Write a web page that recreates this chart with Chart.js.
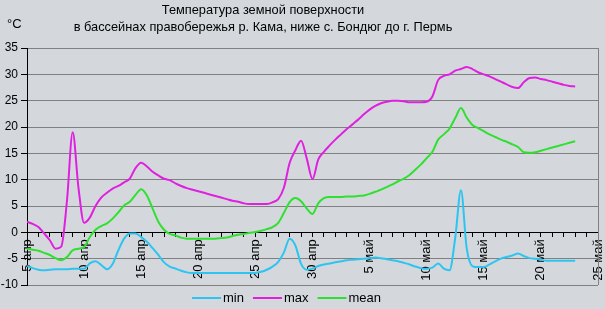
<!DOCTYPE html>
<html>
<head>
<meta charset="utf-8">
<script src="https://cdn.jsdelivr.net/npm/chart.js@4"></script>
<style>
  html, body { margin: 0; padding: 0; background: #d4d8dc; }
</style>
</head>
<body>
<canvas id="chart" width="605" height="309"></canvas>
<script>
// Температура земной поверхности, р. Кама (правобережье), апрель–май
"use strict";

const TITLE_LINES = [
  "Температура земной поверхности",
  "в бассейнах правобережья р. Кама, ниже с. Бондюг до г. Пермь",
];
const UNIT_LABEL = "°C";

// подписи оси X: каждые 5 суток начиная с 5 апр (день 0)
const DATE_TICKS = [
  "5 апр", "10 апр", "15 апр", "20 апр", "25 апр", "30 апр",
  "5 май", "10 май", "15 май", "20 май", "25 май",
];

// сутки от 5 апреля, шаг полсуток
const DAYS = [
  0, 0.5, 1, 1.5, 2, 2.5, 3, 3.5, 4, 4.5, 5, 5.5, 6, 6.5, 7, 7.5, 8, 8.5, 9, 9.5,
  10, 10.5, 11, 11.5, 12, 12.5, 13, 13.5, 14, 14.5, 15, 15.5, 16, 16.5, 17, 17.5, 18, 18.5, 19, 19.5,
  20, 20.5, 21, 21.5, 22, 22.5, 23, 23.5, 24, 24.5, 25, 25.5, 26, 26.5, 27, 27.5, 28, 28.5, 29, 29.5,
  30, 30.5, 31, 31.5, 32, 32.5, 33, 33.5, 34, 34.5, 35, 35.5, 36, 36.5, 37, 37.5, 38, 38.5, 39, 39.5,
  40, 40.5, 41, 41.5, 42, 42.5, 43, 43.5, 44, 44.5, 45, 45.5, 46, 46.5, 47, 47.5, 48,
];

const T_MIN = [
  -6.4, -6.8, -7.1, -7.2, -7.1, -7.0, -7.0, -7.0, -6.9, -6.9, -6.9, -5.9, -5.5, -6.2, -7.0, -6.0, -3.4, -1.2, -0.2, -0.2,
  -0.9, -1.8, -3.0, -4.3, -5.7, -6.5, -6.9, -7.3, -7.6, -7.7, -7.7, -7.7, -7.7, -7.7, -7.7, -7.7, -7.7, -7.7, -7.7, -7.7,
  -7.7, -7.5, -7.1, -6.5, -5.6, -3.8, -1.2, -2.5, -6.0, -7.1, -6.9, -6.4, -6.1, -5.9, -5.7, -5.5, -5.3, -5.2, -5.1, -5.0,
  -4.9, -4.8, -4.9, -5.1, -5.3, -5.5, -5.8, -6.1, -6.5, -6.8, -6.9, -6.7, -5.9, -6.9, -7.2, -1.0, 8.0, -3.0, -6.4, -6.6,
  -6.6, -6.1, -5.5, -5.0, -4.7, -4.4, -4.0, -4.5, -4.9, -5.0, -5.2, -5.4, -5.4, -5.4, -5.4, -5.4, -5.4,
];

const T_MAX = [
  2.0, 1.6, 1.0, -0.2, -1.5, -3.1, -2.7, 6.0, 19.0, 8.6, 1.8, 2.8, 5.0, 6.6, 7.5, 8.3, 8.8, 9.5, 10.2, 12.2,
  13.2, 12.5, 11.5, 10.8, 10.2, 9.9, 9.3, 8.8, 8.4, 8.1, 7.8, 7.5, 7.2, 6.9, 6.6, 6.3, 6.0, 5.8, 5.5, 5.4,
  5.4, 5.4, 5.4, 5.7, 6.3, 8.5, 13.2, 15.6, 17.4, 14.0, 10.1, 13.8, 15.3, 16.5, 17.6, 18.6, 19.6, 20.5, 21.4, 22.4,
  23.3, 24.0, 24.5, 24.8, 25.0, 25.0, 24.9, 24.7, 24.7, 24.7, 24.8, 25.8, 28.9, 29.7, 30.0, 30.7, 31.0, 31.4, 31.0, 30.4,
  30.0, 29.6, 29.1, 28.6, 28.1, 27.6, 27.4, 28.5, 29.3, 29.4, 29.1, 28.9, 28.6, 28.3, 28.0, 27.8, 27.7,
];

const T_MEAN = [
  -3.1, -3.3, -3.5, -3.9, -4.3, -4.9, -5.3, -4.7, -3.4, -3.1, -2.8, -0.9, 0.5, 1.2, 1.7, 2.6, 3.8, 5.1, 5.8, 7.1,
  8.2, 7.0, 4.5, 2.0, 0.5, -0.3, -0.6, -1.0, -1.2, -1.2, -1.2, -1.2, -1.2, -1.2, -1.1, -1.0, -0.7, -0.45, -0.3, -0.1,
  0.05, 0.3, 0.6, 1.0, 1.8, 3.7, 5.75, 6.5, 5.9, 4.5, 3.5, 5.5, 6.5, 6.7, 6.7, 6.7, 6.8, 6.8, 6.9, 7.0,
  7.3, 7.7, 8.1, 8.6, 9.1, 9.7, 10.2, 10.9, 11.9, 12.9, 14.1, 15.3, 17.6, 18.6, 19.7, 21.7, 23.6, 21.8, 20.4, 19.8,
  19.2, 18.6, 18.1, 17.6, 17.2, 16.7, 16.2, 15.2, 15.1, 15.2, 15.5, 15.8, 16.1, 16.4, 16.7, 17.0, 17.3,
];

const SERIES_LABELS = ["min", "max", "mean"];
const SERIES_COLORS = ["#2ec4f0", "#e020e0", "#30e030"];

const FONT = "'Liberation Sans', Arial, sans-serif";
const BG = "#d4d8dc";
const GRID = "#808080";

function toPoints(values) {
  return DAYS.map((d, i) => ({ x: d, y: values[i] }));
}

// фон, заголовок, °C, рамка справа и легенда
const decorPlugin = {
  id: "decor",
  beforeDraw(chart) {
    const ctx = chart.ctx;
    ctx.save();
    ctx.fillStyle = BG;
    ctx.fillRect(0, 0, chart.width, chart.height);
    ctx.restore();
  },
  afterDraw(chart) {
    const ctx = chart.ctx;
    const area = chart.chartArea;
    ctx.save();

    ctx.strokeStyle = GRID;
    ctx.lineWidth = 1;
    ctx.beginPath();
    ctx.moveTo(Math.round(area.right) + 0.5, area.top);
    ctx.lineTo(Math.round(area.right) + 0.5, area.bottom);
    ctx.stroke();

    ctx.fillStyle = "#000";
    ctx.font = "12.8px " + FONT;
    ctx.textAlign = "center";
    ctx.textBaseline = "alphabetic";
    ctx.fillText(TITLE_LINES[0], 263, 14);
    ctx.fillText(TITLE_LINES[1], 263, 31);

    ctx.font = "13px " + FONT;
    ctx.textAlign = "left";
    ctx.fillText(UNIT_LABEL, 7, 28);

    // легенда
    ctx.font = "13px " + FONT;
    ctx.textBaseline = "middle";
    let x = 192;
    const y = 298;
    chart.data.datasets.forEach(ds => {
      ctx.strokeStyle = ds.borderColor;
      ctx.lineWidth = 2;
      ctx.beginPath();
      ctx.moveTo(x, y);
      ctx.lineTo(x + 29, y);
      ctx.stroke();
      x += 31;
      ctx.fillStyle = "#000";
      ctx.fillText(ds.label, x, y);
      x += ctx.measureText(ds.label).width + 9;
    });
    ctx.restore();
  },
};

new Chart(document.getElementById("chart"), {
  type: "line",
  data: {
    datasets: SERIES_LABELS.map((label, i) => ({
      label,
      data: toPoints([T_MIN, T_MAX, T_MEAN][i]),
      borderColor: SERIES_COLORS[i],
      backgroundColor: SERIES_COLORS[i],
      borderWidth: 2,
      pointRadius: 0,
      fill: false,
      cubicInterpolationMode: "monotone",
    })),
  },
  options: {
    responsive: false,
    animation: false,
    devicePixelRatio: 1,
    layout: { padding: { top: 48, bottom: 24, left: 0, right: 7 } },
    plugins: {
      legend: { display: false },
      title: { display: false },
      tooltip: { enabled: false },
    },
    scales: {
      x: {
        type: "linear",
        position: { y: 0 },
        min: 0,
        max: 50,
        afterFit(scale) {
          scale.height = 0;
          scale.paddingLeft = 0;
          scale.paddingRight = 0;
        },
        ticks: {
          stepSize: 1,
          autoSkip: false,
          minRotation: 90,
          maxRotation: 90,
          padding: 3,
          color: "#000",
          font: { family: FONT, size: 13 },
          callback: v => (v % 5 === 0 ? DATE_TICKS[v / 5] : ""),
        },
        grid: {
          drawOnChartArea: false,
          tickLength: 4,
          tickColor: "#000",
        },
        border: { color: "#000", width: 1 },
      },
      y: {
        min: -10,
        max: 35,
        afterFit(scale) { scale.width = 27; },
        ticks: {
          stepSize: 5,
          padding: 3,
          color: "#000",
          font: { family: FONT, size: 12 },
        },
        grid: {
          color: ctx => (ctx.tick && ctx.tick.value === 0 ? "#000" : GRID),
          tickColor: "#000",
          tickLength: 6,
        },
        border: { color: "#000", width: 1 },
      },
    },
  },
  plugins: [decorPlugin],
});
</script>
</body>
</html>
